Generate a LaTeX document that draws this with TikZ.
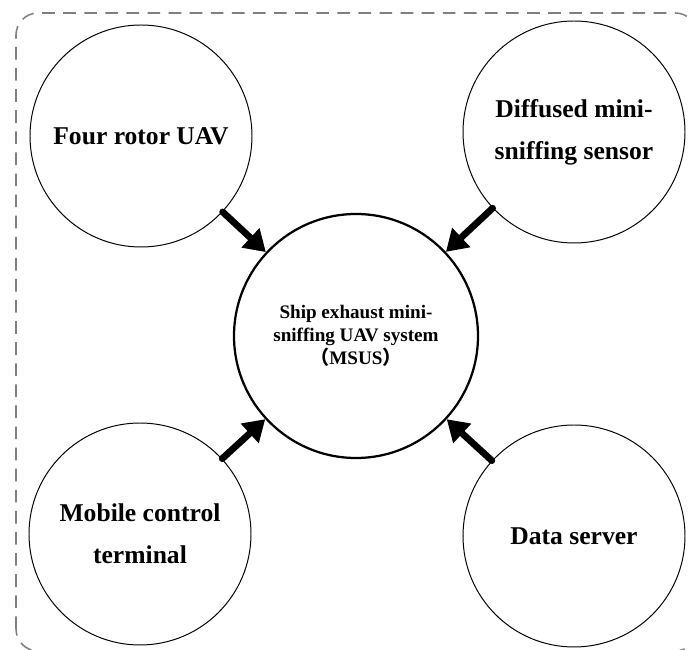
\documentclass[tikz,border=0pt]{standalone}
\usepackage{fontspec}
\setmainfont{Liberation Serif}
\newfontfamily\cjk{Noto Sans CJK SC}
\usetikzlibrary{arrows.meta,positioning}
\definecolor{framegray}{HTML}{808080}
\tikzset{
  >={Triangle[length=15pt,width=18pt]},
  % delar
  part/.style={circle,draw=black,line width=0.7pt,inner sep=0pt,
               minimum size=5.55cm,align=center,
               font=\fontsize{18.2}{30}\selectfont\bfseries},
  core/.style={circle,draw=black,line width=1.6pt,inner sep=0pt,
               minimum size=6.1cm,align=center,
               font=\fontsize{13.6}{16.5}\selectfont\bfseries},
  feed/.style={->,draw=black,line width=4.8pt,line cap=round},
  sysframe/.style={draw=framegray,line width=1.1pt,
                   dash pattern=on 9pt off 6pt,rounded corners=0.55cm},
}
\begin{document}
\begin{tikzpicture}
\useasboundingbox (0,0) rectangle (17.225,16.25);
  \draw[sysframe] (0.4,-0.025) rectangle (17.43,15.925);
  \node[core] (msus) at (8.9,7.85) {Ship exhaust mini-\\sniffing UAV system\\{\cjk （}MSUS{\cjk ）}};
  \node[part] (uav) at (3.525,12.85) {Four rotor UAV};
  \node[part] (sensor) at (14.35,12.95) {Diffused mini-\\sniffing sensor};
  \node[part] (mobile) at (3.5,2.9) {Mobile control\\terminal};
  \node[part] (server) at (14.35,2.85) {Data server};
  \draw[feed] (uav) -- (msus);
  \draw[feed] (sensor) -- (msus);
  \draw[feed] (mobile) -- (msus);
  \draw[feed] (server) -- (msus);
\end{tikzpicture}
\end{document}
